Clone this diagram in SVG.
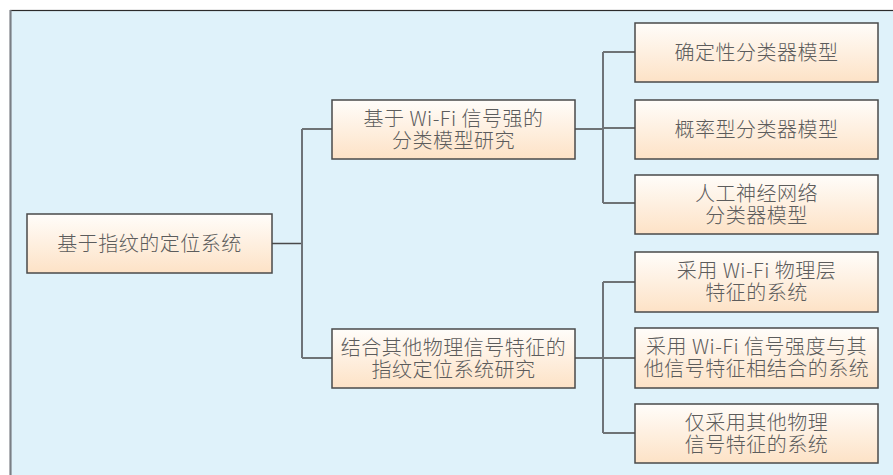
<svg xmlns="http://www.w3.org/2000/svg" width="893" height="475" viewBox="0 0 893 475">
<defs>
<linearGradient id="g" x1="0" y1="0" x2="0" y2="1">
<stop offset="0" stop-color="#fffdfa"/>
<stop offset="1" stop-color="#fde2c6"/>
</linearGradient>
<style>
.box{fill:url(#g);stroke:#4a4a4a;stroke-width:1.5}
.t{font-family:"Noto Sans CJK SC","Noto Sans",sans-serif;font-size:20px;font-weight:300;fill:#5c5c5c;text-anchor:middle;letter-spacing:0.5px}
.c{fill:none;stroke:#4a4a4a;stroke-width:1.4}
.v{fill:none;stroke:#6e7378;stroke-width:2}
</style>
</defs>
<rect x="0" y="0" width="893" height="475" fill="#ffffff"/>
<rect x="10.5" y="10.5" width="890" height="480" fill="#dff2fa" stroke="#2b2b2b" stroke-width="1.2"/>
<line x1="10.5" y1="10" x2="10.5" y2="475" stroke="#7a7f85" stroke-width="2"/>
<g id="connectors">
<path class="c" d="M272 243.5H302M302 129H332M302 358H332M575 129H603M575 358H603M603 52H635M603 128H635M603 203H635M603 282H635M603 358H635M603 433H635"/>
<path class="v" d="M302 129V358M603 52V203M603 282V433"/>
</g>
<g id="root"><rect class="box" x="27" y="214" width="245" height="59"/><text class="t" x="149.5" y="250.5">基于指纹的定位系统</text></g>
<g id="mid1"><rect class="box" x="332" y="100" width="243" height="59"/><text class="t" x="453.5" y="126">基于 Wi-Fi 信号强的<tspan x="453.5" dy="22">分类模型研究</tspan></text></g>
<g id="mid2"><rect class="box" x="332" y="329" width="243" height="59"/><text class="t" x="453.5" y="355">结合其他物理信号特征的<tspan x="453.5" dy="22">指纹定位系统研究</tspan></text></g>
<g id="r1"><rect class="box" x="635" y="23" width="243" height="59"/><text class="t" x="756.5" y="59.5">确定性分类器模型</text></g>
<g id="r2"><rect class="box" x="635" y="100" width="243" height="59"/><text class="t" x="756.5" y="136.5">概率型分类器模型</text></g>
<g id="r3"><rect class="box" x="635" y="175" width="243" height="59"/><text class="t" x="756.5" y="201">人工神经网络<tspan x="756.5" dy="22">分类器模型</tspan></text></g>
<g id="r4"><rect class="box" x="635" y="252" width="243" height="60"/><text class="t" x="756.5" y="278">采用 Wi-Fi 物理层<tspan x="756.5" dy="22">特征的系统</tspan></text></g>
<g id="r5"><rect class="box" x="635" y="328" width="243" height="60"/><text class="t" x="756.5" y="354">采用 Wi-Fi 信号强度与其<tspan x="756.5" dy="22">他信号特征相结合的系统</tspan></text></g>
<g id="r6"><rect class="box" x="635" y="404" width="243" height="59"/><text class="t" x="756.5" y="430">仅采用其他物理<tspan x="756.5" dy="22">信号特征的系统</tspan></text></g>
</svg>
